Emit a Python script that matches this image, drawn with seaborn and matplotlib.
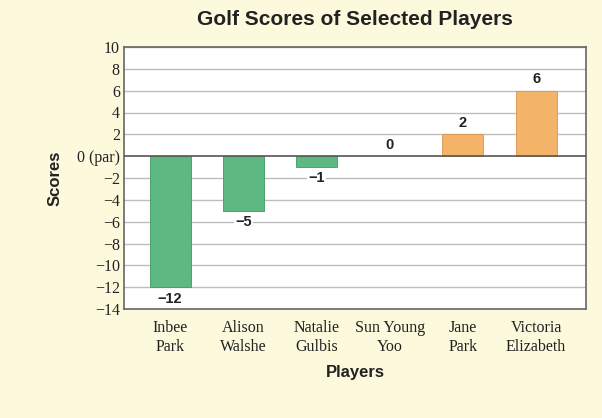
import matplotlib
matplotlib.use("Agg")
import matplotlib.pyplot as plt
import seaborn as sns
import numpy as np
import pandas as pd

players = ["Inbee\nPark", "Alison\nWalshe", "Natalie\nGulbis", "Sun Young\nYoo", "Jane\nPark", "Victoria\nElizabeth"]
scores = [-12, -5, -1, 0, 2, 6]
yticks = [10, 8, 6, 4, 2, 0, -2, -4, -6, -8, -10, -12, -14]
ytick_labels = ["10", "8", "6", "4", "2", "0 (par)", "\u22122", "\u22124", "\u22126", "\u22128", "\u221210", "\u221212", "\u221214"]

bg = "#FDF9DC"
green = "#5DB882"
orange = "#F3B46A"

sns.set_theme(style="white")
plt.rcParams["font.family"] = ["Liberation Sans", "DejaVu Sans"]

df = pd.DataFrame({"player": players, "score": scores})
colors = [green if s < 0 else orange for s in scores]

fig = plt.figure(figsize=(6.02, 4.18), dpi=100, facecolor=bg)
ax = fig.add_axes([124 / 602, 1 - 309 / 418, (586 - 124) / 602, (309 - 47) / 418])
ax.set_facecolor("white")

# grid lines first
for y in yticks:
    if y != 0:
        ax.axhline(y, color="#BDBDBD", lw=1.0, zorder=0)

sns.barplot(data=df, x="player", y="score", hue="player", palette=colors, legend=False,
            width=0.56, ax=ax, zorder=2, saturation=1)
for p, c, s in zip(ax.patches, colors, scores):
    if s == 0:
        p.set_edgecolor("none")
        continue
    p.set_edgecolor("#3E9A66" if c == green else "#D9964A")
    p.set_linewidth(0.6)

ax.axhline(0, color="#555555", lw=1.2, zorder=3)

ax.set_ylim(-14, 10)
ax.set_xlim(-0.63, 5.68)
ax.set_yticks(yticks)
ax.set_yticklabels(ytick_labels, family="Liberation Serif", fontsize=11.5, color="#222222")
ax.set_xticks(range(len(players)))
ax.set_xticklabels(players, family="Liberation Serif", fontsize=11.5, color="#222222", linespacing=1.25)
ax.tick_params(axis="y", length=0, pad=3)
ax.tick_params(axis="x", length=0, pad=8)

for sp in ax.spines.values():
    sp.set_color("#666666")
    sp.set_linewidth(1.2)

# value labels
for i, s in enumerate(scores):
    txt = str(s).replace("-", "\u2212")
    if s > 0:
        ax.text(i, s + 0.4, txt, ha="center", va="bottom", fontsize=10.5, fontweight="bold", color="#222222")
    elif s == 0:
        ax.text(i, 0.4, txt, ha="center", va="bottom", fontsize=10.5, fontweight="bold", color="#222222")
    else:
        ax.text(i, s - 0.4, txt, ha="center", va="top", fontsize=10.5, fontweight="bold", color="#222222",
                bbox=dict(facecolor="white", edgecolor="none", pad=1.0))

ax.set_xlabel("Players", fontsize=12, fontweight="bold", color="#222222", labelpad=7)
ax.set_ylabel("Scores", fontsize=12, fontweight="bold", color="#222222", labelpad=10)
fig.suptitle("Golf Scores of Selected Players", x=(124 + 586) / 2 / 602, y=1 - 10 / 418,
             fontsize=15, fontweight="bold", color="#222222", va="top")

fig.savefig("out.png", dpi=100, facecolor=bg)
